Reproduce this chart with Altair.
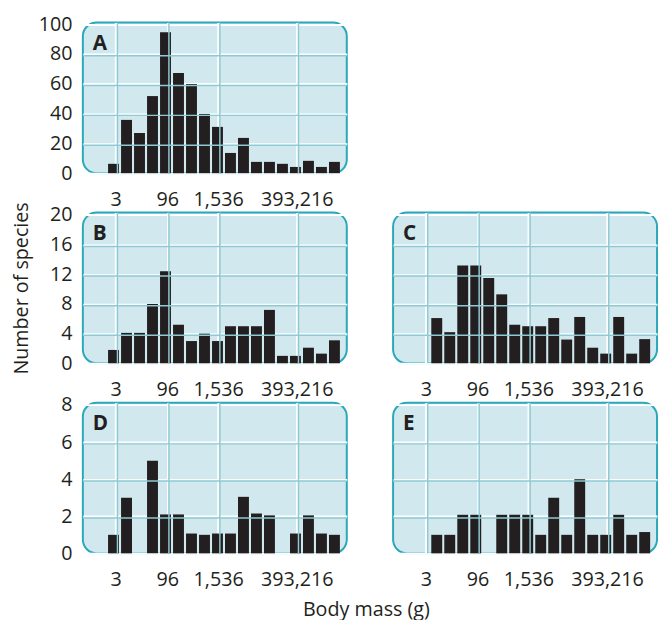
import altair as alt
import pandas as pd

# ---- data ----
bins = list(range(18))
a_vals = [6.3, 35.8, 27.0, 51.8, 94.7, 67.3, 59.9, 39.8, 31.1, 13.6, 23.7, 7.6, 7.6, 6.3, 4.2, 8.3, 4.2, 7.6]
b_vals = [1.8, 4.1, 4.1, 8.0, 12.4, 5.2, 3.0, 4.0, 3.0, 5.0, 5.0, 5.0, 7.2, 1.0, 1.0, 2.1, 1.3, 3.1]
c_vals = [0, 6.1, 4.2, 13.2, 13.2, 11.5, 9.3, 5.2, 5.0, 5.0, 6.1, 3.2, 6.25, 2.1, 1.3, 6.25, 1.3, 3.26]
d_vals = [1.0, 3.0, 0, 5.0, 2.1, 2.1, 1.07, 1.0, 1.07, 1.07, 3.05, 2.15, 2.05, 0, 1.07, 2.05, 1.07, 1.0]
e_vals = [0, 1.0, 1.0, 2.08, 2.08, 0, 2.08, 2.08, 2.08, 1.0, 3.0, 1.0, 4.0, 1.0, 1.0, 2.08, 1.0, 1.15]

tick_pos = [0.17, 4.13, 8.05, 14.1]
tick_labels = ["3", "96", "1,536", "393,216"]
a_ticks = [0, 20, 40, 60, 80, 100]
bc_ticks = [0, 4, 8, 12, 16, 20]
de_ticks = [0, 2, 4, 6, 8]

FONT = "Open Sans"
INK = "#231f20"
TEAL = "#8ecad3"
BORDER = "#2aa8b8"
FILL = "#d0e8ee"

label_expr = "''"
for p, lab in reversed(list(zip(tick_pos, tick_labels))):
    label_expr = f"abs(datum.value - {p}) < 0.01 ? '{lab}' : " + label_expr

W, H = 268, 153
XDOM = [-2.36, 17.95]


def panel(vals, letter, yticks, ymax, ylabels, ytitle):
    df = pd.DataFrame({"bin": bins, "count": vals})
    xaxis = alt.Axis(values=tick_pos, labelExpr=label_expr, title="", tickCount=10,
                     gridColor="white", gridWidth=2, ticks=False, domain=False,
                     labelPadding=17, labelOverlap=False)
    if ylabels:
        yaxis = alt.Axis(values=yticks, title=ytitle, tickCount=10,
                         minExtent=42, maxExtent=42,
                         gridColor="white", gridWidth=2, ticks=False, domain=False,
                         labelPadding=11, titlePadding=10, labelOverlap=False)
    else:
        yaxis = alt.Axis(values=yticks, title="", labels=False, ticks=False, domain=False,
                         tickCount=10, gridColor="white", gridWidth=2, minExtent=0, maxExtent=0)
    bars = alt.Chart(df).transform_calculate(
        x0="datum.bin - 0.42", x1="datum.bin + 0.42"
    ).mark_bar(color=INK).encode(
        x=alt.X("x0:Q", scale=alt.Scale(domain=XDOM, nice=False, zero=False), axis=xaxis),
        x2="x1:Q",
        y=alt.Y("count:Q", scale=alt.Scale(domain=[0, ymax], nice=False), axis=yaxis),
        y2=alt.datum(0),
    )
    vgrid = alt.Chart(pd.DataFrame({"g": tick_pos})).mark_rule(
        color=TEAL, strokeWidth=1.5, xOffset=1.75
    ).encode(x=alt.X("g:Q"))
    hgrid = alt.Chart(pd.DataFrame({"h": yticks[1:-1]})).mark_rule(
        color=TEAL, strokeWidth=1.5, yOffset=1.75
    ).encode(y=alt.Y("h:Q"))
    txt = alt.Chart(pd.DataFrame({"t": [letter]})).mark_text(
        font=FONT, fontSize=21, fontWeight="bold", color=INK, align="left", baseline="alphabetic"
    ).encode(text="t:N", x=alt.value(10), y=alt.value(28))
    return alt.layer(bars, vgrid, hgrid, txt).properties(width=W, height=H)


pA = panel(a_vals, "A", a_ticks, 101.2, True, "")
pB = panel(b_vals, "B", bc_ticks, 20.33, True, "Number of species")
pC = panel(c_vals, "C", bc_ticks, 20.33, False, None)
pD = panel(d_vals, "D", de_ticks, 8.13, True, "")
pE = panel(e_vals, "E", de_ticks, 8.13, False, None)

blank = alt.Chart(pd.DataFrame({"t": [""]})).mark_text().encode(text="t:N").properties(
    width=W, height=H, view=alt.ViewBackground(fill="transparent", stroke="transparent")
)

chart = alt.concat(
    pA, blank, pB, pC, pD, pE,
    columns=2, spacing={"row": 40, "column": 47},
    bounds="flush",
).properties(
    title=alt.TitleParams("Body mass (g)", orient="bottom", anchor="middle", font=FONT,
                          fontSize=20, fontWeight="normal", color=INK, dx=32, offset=10),
    padding={"left": 3, "top": 0, "right": 0, "bottom": 0},
).configure_view(
    fill=FILL, stroke=BORDER, strokeWidth=2, cornerRadius=14
).configure_axis(
    labelFont=FONT, labelFontSize=20, labelColor=INK, grid=True, labelOverlap=False,
    titleFont=FONT, titleFontSize=20, titleFontWeight="normal", titleColor=INK
)

chart.save("out.html", embed_options={"renderer": "svg", "actions": False})
